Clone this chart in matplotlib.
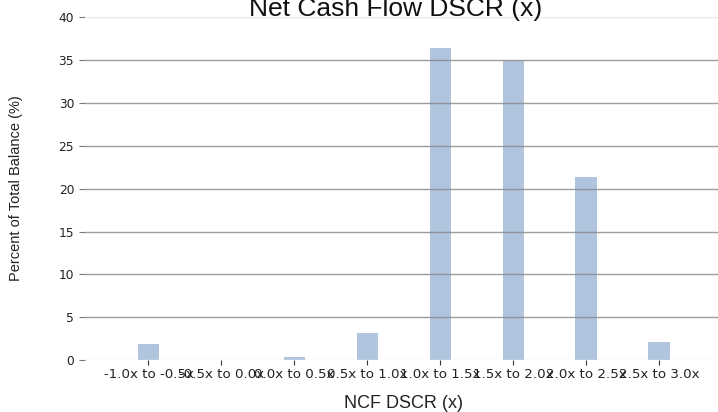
import matplotlib
matplotlib.use("Agg")
import matplotlib.pyplot as plt
import numpy as np

categories = ["-1.0x to -0.5x", "-0.5x to 0.0x", "0.0x to 0.5x", "0.5x to 1.0x",
              "1.0x to 1.5x", "1.5x to 2.0x", "2.0x to 2.5x", "2.5x to 3.0x"]
values = [1.9, 0.0, 0.3, 3.2, 36.4, 34.9, 21.4, 2.1]
yticks = [0, 5, 10, 15, 20, 25, 30, 35, 40]

W, H = 718, 412
fig = plt.figure(figsize=(W / 100, H / 100), dpi=100)
ax_left, ax_right = 85, 718
y0_px, y40_px = 360, 17.5
ax = fig.add_axes([ax_left / W, 1 - y0_px / H, (ax_right - ax_left) / W, (y0_px - y40_px) / H])

x = np.arange(len(categories))
ax.bar(x, values, width=0.29, color="#B0C4DE", zorder=1)

ax.set_xlim(-0.87, 7.81)
ax.set_ylim(0, 40)
ax.set_yticks(yticks)
ax.set_xticks(x)
ax.set_xticklabels(categories, fontsize=9.6, family="DejaVu Sans", color="#222222")
ax.set_yticklabels([str(v) for v in yticks], fontsize=8.8, family="DejaVu Sans", color="#222222")

for v in yticks:
    if v in (0, 40):
        ax.axhline(v, color="#e8e8e8", lw=1.0, zorder=2)
    else:
        ax.axhline(v, color="#8c8c8c", lw=1.0, alpha=0.85, zorder=2)

for s in ax.spines.values():
    s.set_visible(False)
ax.tick_params(axis="y", length=4.3, color="#777777", pad=3.5)
ax.tick_params(axis="x", length=3.5, color="#333333", pad=2)

fig.text(396 / W, 1 - 16 / H, "Net Cash Flow DSCR (x)", ha="center", va="baseline",
         fontsize=19, family="Liberation Sans", color="#111111")
fig.text(16 / W, 1 - 188 / H, "Percent of Total Balance (%)", ha="center", va="center",
         rotation=90, fontsize=10.5, family="Liberation Sans", color="#222222")
fig.text(403 / W, 1 - 404 / H, "NCF DSCR (x)", ha="center", va="center",
         fontsize=13, family="Liberation Sans", color="#222222")

fig.savefig("out.png", dpi=100)
